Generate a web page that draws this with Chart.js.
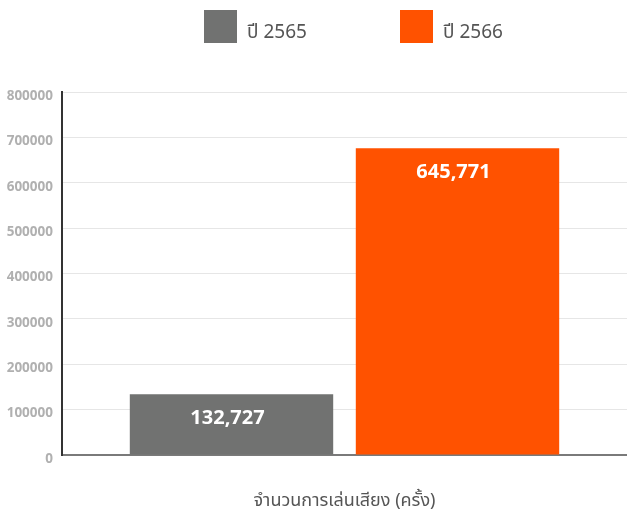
<!DOCTYPE html>
<html>
<head>
<meta charset="utf-8">
<script src="https://cdn.jsdelivr.net/npm/chart.js@4.4.1/dist/chart.umd.min.js"></script>
<style>
  html, body { margin: 0; padding: 0; background: #fff; }
  #wrap { width: 627px; height: 512px; }
</style>
</head>
<body>
<div id="wrap"><canvas id="playsChart"></canvas></div>
<script>
// values
const categories = [''];
const seriesNames = ['ปี 2565', 'ปี 2566'];
const seriesColors = ['#717271', '#ff5200'];
const barValues = [134000, 676000];          // bar heights as drawn
const barLabels = ['132,727', '645,771'];    // numbers printed on the bars
const yTicks = [0, 100000, 200000, 300000, 400000, 500000, 600000, 700000, 800000];
const axisTitle = 'จำนวนการเล่นเสียง (ครั้ง)';

const FONT = "'Noto Sans', 'Noto Sans Thai', Tahoma, 'DejaVu Sans', sans-serif";

// legend with wide spacing, drawn on the canvas
const wideLegend = {
  id: 'wideLegend',
  afterDraw(chart) {
    const ctx = chart.ctx;
    ctx.save();
    ctx.font = '19px ' + FONT;
    ctx.textBaseline = 'middle';
    ctx.textAlign = 'left';
    chart.data.datasets.forEach((ds, i) => {
      const x = 204 + i * 196;
      ctx.fillStyle = ds.backgroundColor;
      ctx.fillRect(x, 10, 33, 33);
      ctx.fillStyle = '#555555';
      ctx.fillText(ds.label, x + 43, 33);
    });
    ctx.restore();
  }
};

// value text inside the top of each bar
const barText = {
  id: 'barText',
  afterDatasetsDraw(chart) {
    const ctx = chart.ctx;
    ctx.save();
    ctx.font = 'bold 20px ' + FONT;
    ctx.fillStyle = '#ffffff';
    ctx.textAlign = 'center';
    ctx.textBaseline = 'middle';
    chart.data.datasets.forEach((ds, i) => {
      const bar = chart.getDatasetMeta(i).data[0];
      ctx.fillText(barLabels[i], bar.x - 4, bar.y + 24);
    });
    ctx.restore();
  }
};

new Chart(document.getElementById('playsChart'), {
  type: 'bar',
  data: {
    labels: categories,
    datasets: seriesNames.map((name, i) => ({
      label: name,
      data: [barValues[i]],
      backgroundColor: seriesColors[i],
      borderWidth: 0
    }))
  },
  options: {
    responsive: true,
    maintainAspectRatio: false,
    animation: false,
    layout: { padding: { top: 92, right: 0, left: 0, bottom: 0 } },
    plugins: {
      legend: { display: false },
      tooltip: { enabled: false }
    },
    scales: {
      x: {
        grid: { display: false },
        ticks: { display: false },
        border: { color: '#7a7a7a', width: 2 },
        title: {
          display: true,
          text: axisTitle,
          color: '#555555',
          font: { family: FONT, size: 18 },
          padding: { top: 0, bottom: 0 }
        },
        afterFit: scale => { scale.height = 57; }
      },
      y: {
        min: 0,
        max: yTicks[yTicks.length - 1],
        afterBuildTicks: scale => { scale.ticks = yTicks.map(v => ({ value: v })); },
        grid: { color: '#e6e6e6', lineWidth: 1, drawTicks: false },
        border: { color: '#333333', width: 2 },
        ticks: {
          color: '#b0b0b0',
          padding: 9,
          labelOffset: 4,
          font: { family: FONT, size: 13.5, weight: 'bold' },
          callback: v => String(v)
        },
        afterFit: scale => { scale.width = 62; }
      }
    }
  },
  plugins: [wideLegend, barText]
});
</script>
</body>
</html>
